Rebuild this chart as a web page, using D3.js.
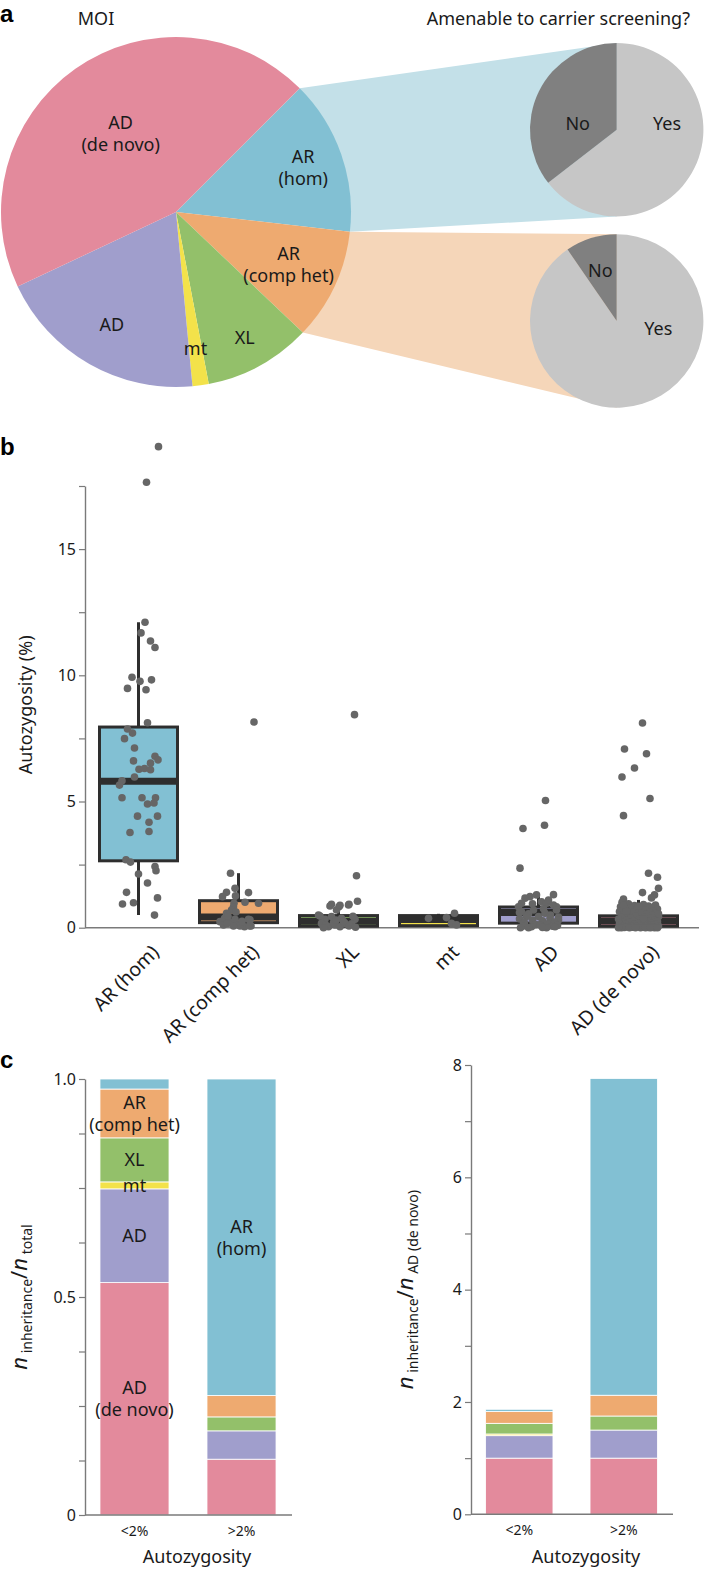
<!DOCTYPE html>
<html><head><meta charset="utf-8">
<script src="https://cdn.jsdelivr.net/npm/d3@7"></script>
<style>body{margin:0;background:#fff} text{font-family:"Noto Sans",sans-serif;fill:#1a1a1a}</style>
</head><body><svg id="chart" width="704" height="1571"></svg>
<script>
// ---------------- DATA ----------------
const moiCategories = ["AR (hom)", "AR (comp het)", "XL", "mt", "AD", "AD (de novo)"];
const moiLabels = [["AR", "(hom)"], ["AR", "(comp het)"], ["XL"], ["mt"], ["AD"], ["AD", "(de novo)"]];
const moiShare = [14.3, 10.3, 9.9, 1.5, 19.5, 44.5];           // % of cases
const moiColors = ["#82c0d3", "#eeaa70", "#93c06a", "#f3e24a", "#a09ecc", "#e38a9c"];

const screenAnswers = ["Yes", "No"];
const screenHom = [64.5, 35.5];       // AR (hom) amenable to carrier screening
const screenCompHet = [90.4, 9.6];    // AR (comp het)
const screenColors = ["#c6c6c6", "#808080"];

// panel b: box statistics [q1, median, q3, whiskerLow, whiskerHigh]
const boxStats = [
  [2.65, 5.8, 7.95, 0.5, 12.1],
  [0.2, 0.42, 1.07, 0.0, 2.16],
  [0.06, 0.26, 0.48, 0.0, 0.9],
  [0.08, 0.32, 0.48, 0.1, 0.55],
  [0.18, 0.6, 0.82, 0.0, 1.25],
  [0.06, 0.27, 0.47, 0.0, 1.1]
];
// points: [autozygosity %, horizontal jitter (fraction of band step)]
const ptsHom = [[19.06,0.20],[17.65,0.08],[12.1,0.065],[11.68,0.025],[11.36,0.12],[11.1,0.165],[9.92,-0.065],[9.76,0.015],[9.82,0.13],[9.48,-0.11],[9.43,0.075],[8.12,0.09],[7.87,-0.11],[7.71,-0.06],[7.49,-0.14],[7.12,-0.04],[6.79,0.165],[6.65,0.195],[6.61,-0.05],[6.52,0.12],[6.28,0.005],[6.31,0.06],[6.26,0.12],[5.97,-0.04],[5.82,-0.165],[5.65,-0.19],[5.15,-0.165],[5.15,0.035],[5.15,0.17],[4.9,0.09],[4.94,0.155],[4.42,-0.01],[4.42,0.19],[4.18,0.105],[3.81,0.105],[3.77,-0.085],[2.69,-0.125],[2.6,-0.08],[2.42,0.165],[2.26,0.175],[2.13,0.0],[1.77,0.09],[1.4,-0.12],[1.18,0.19],[0.94,-0.16],[0.99,-0.05],[0.5,0.16]];
const ptsCompHet = [[8.15,0.155],[2.16,-0.08],[1.56,-0.035],[1.4,-0.12],[1.39,0.10],[1.23,-0.16],[1.26,-0.03],[1.01,0.065],[0.97,0.20],[0.97,-0.045],[0.83,-0.05],[0.7,-0.07],[0.57,-0.12],[0.37,-0.14],[0.33,-0.035],[0.33,0.10],[0.24,-0.185],[0.2,-0.085],[0.11,0.0],[0.04,0.06],[0.07,0.125],[0.11,-0.15],[0.17,-0.11],[0.07,0.015],[0.07,0.11],[0.31,0.115],[0.07,-0.05],[0.45,-0.105],[0.25,0.035],[0.62,-0.025]];
const ptsXL = [[8.44,0.16],[2.06,0.18],[1.05,0.19],[0.93,-0.07],[0.93,0.105],[0.83,0.005],[0.7,-0.02],[0.5,-0.2],[0.33,-0.135],[0.44,-0.07],[0.37,0.03],[0.33,0.165],[0.17,-0.17],[0.04,-0.10],[0.11,-0.035],[0.17,0.065],[0.15,0.13],[0.04,0.015],[0.07,0.105],[0.86,-0.085],[0.89,0.015],[0.9,0.10],[0.46,-0.185],[0.2,-0.05],[0.24,0.05],[0.1,-0.125],[0.45,0.145],[0.3,-0.025],[0.02,0.17],[0.0,-0.15]];
const ptsMt = [[0.37,-0.10],[0.4,0.08],[0.57,0.16],[0.17,0.13],[0.11,0.18]];
const ptsAD = [[5.04,0.07],[4.06,0.06],[3.93,-0.155],[2.36,-0.185],[1.31,0.15],[1.23,-0.085],[1.17,-0.135],[1.3,-0.02],[1.03,0.03],[0.97,-0.17],[0.97,0.08],[0.9,0.15],[0.83,-0.2],[0.83,0.18],[0.7,0.18],[0.7,-0.05],[0.63,-0.17],[0.57,0.065],[0.55,-0.1],[0.5,0.12],[0.44,-0.12],[0.44,0.0],[0.42,0.2],[0.37,0.115],[0.35,-0.19],[0.31,0.2],[0.3,-0.06],[0.27,0.04],[0.22,0.16],[0.2,-0.14],[0.17,-0.15],[0.15,0.09],[0.12,-0.03],[0.11,0.015],[0.09,0.19],[0.07,-0.15],[0.06,0.14],[0.04,-0.07],[0.04,0.165],[0.02,0.08],[0.0,-0.1],[0.0,0.08],[0.0,-0.18],[0.01,0.04],[0.6,-0.19],[0.75,0.05],[0.95,-0.06],[1.1,0.1]];
const ptsDeNovo = [[8.11,0.04],[7.08,-0.14],[6.89,0.08],[6.33,-0.04],[5.97,-0.165],[5.12,0.115],[4.44,-0.15],[2.16,0.10],[2.0,0.19],[1.56,0.20],[1.39,0.04],[1.3,0.16],[1.18,0.13],[1.14,-0.15],[1.01,-0.165],
  [0.95,-0.1],[0.92,0.05],[0.9,0.17],[0.88,-0.04],[0.86,0.1],[0.83,-0.18],[0.8,0.13],[0.78,0.02],[0.76,-0.08],[0.74,0.19],[0.72,-0.13],[0.7,0.07],[0.68,-0.02],[0.66,0.15],[0.64,-0.19],[0.62,0.11],[0.6,-0.06],[0.58,0.03],[0.56,0.18],[0.54,-0.15],[0.52,0.08],[0.5,-0.11],[0.48,0.14],[0.46,-0.03],[0.44,0.2],[0.42,-0.17],[0.4,0.06],[0.38,-0.08],[0.36,0.12],[0.34,-0.2],[0.32,0.01],[0.3,0.16],[0.28,-0.12],[0.27,0.09],[0.25,-0.05],[0.24,0.19],[0.22,-0.16],[0.21,0.04],[0.2,-0.09],[0.18,0.13],[0.17,-0.19],[0.16,0.0],[0.15,0.17],[0.14,-0.13],[0.13,0.07],[0.12,-0.04],[0.11,0.11],[0.1,-0.18],[0.09,0.15],[0.08,-0.07],[0.07,0.03],[0.07,0.2],[0.06,-0.15],[0.05,0.09],[0.05,-0.02],[0.04,0.14],[0.04,-0.11],[0.03,0.05],[0.03,-0.19],[0.02,0.18],[0.02,-0.06],[0.01,0.1],[0.01,-0.14],[0.0,0.02],[0.0,-0.09],[0.0,0.16],[0.0,-0.17],[0.0,0.07],[0.0,-0.03],[0.0,0.12],[0.0,0.19],[0.0,-0.2],[0.55,0.2],[0.65,-0.12],[0.85,0.0],[0.9,-0.15],[0.35,0.05]];
const boxPoints = [ptsHom, ptsCompHet, ptsXL, ptsMt, ptsAD, ptsDeNovo];
const boxYTicks = [0, 2.5, 5, 7.5, 10, 12.5, 15, 17.5];

// panel c: stacked bars (bottom to top order)
const stackCategories = ["AD (de novo)", "AD", "mt", "XL", "AR (comp het)", "AR (hom)"];
const stackColors = ["#e38a9c", "#a09ecc", "#f3e24a", "#93c06a", "#eeaa70", "#82c0d3"];
const autozygosityGroups = ["<2%", ">2%"];
const shareLow  = [0.533, 0.215, 0.016, 0.101, 0.112, 0.023];  // n_inheritance / n_total, <2%
const shareHigh = [0.128, 0.065, 0.0, 0.032, 0.049, 0.726];    // >2%
const ratioLow  = [1.0, 0.40, 0.03, 0.19, 0.21, 0.04];          // n_inheritance / n_AD(de novo), <2%
const ratioHigh = [1.0, 0.50, 0.0, 0.25, 0.37, 5.64];           // >2%
const shareTicks = [0, 0.125, 0.25, 0.375, 0.5, 0.625, 0.75, 0.875, 1.0];
const ratioTicks = [0, 1, 2, 3, 4, 5, 6, 7, 8];

// ---------------- DRAW ----------------
const svg = d3.select("#chart");
const dark = "#2e2e2e", axisCol = "#7a7a7a";
const FS = "18px";

function panelLetter(t, x, y) {
  svg.append("text").attr("x", x).attr("y", y).text(t)
    .style("font-weight", "bold").style("font-size", "24px").style("fill", "#000")
    .style("font-family", "'Liberation Sans',Arial,sans-serif");
}
panelLetter("a", 0, 22); panelLetter("b", 0, 455); panelLetter("c", 0, 1068);

// ---- Panel a ----
const main = {cx: 176, cy: 212, r: 175};
const sub1 = {cx: 616.7, cy: 129.7, r: 86.7};
const sub2 = {cx: 616.7, cy: 321, r: 86.7};
const a0 = Math.PI / 4;
const pieMain = d3.pie().sort(null).startAngle(a0).endAngle(a0 + 2 * Math.PI)(moiShare);
const pt = (c, ang, r) => [c.cx + r * Math.sin(ang), c.cy - r * Math.cos(ang)];

// connector wedges
const hom = pieMain[0], ch = pieMain[1];
svg.append("polygon").attr("fill", "#c3e0e8").attr("points", [
  pt(main, hom.startAngle, main.r), [sub1.cx, sub1.cy - sub1.r], [sub1.cx, sub1.cy + sub1.r], pt(main, hom.endAngle, main.r)
].map(p => p.join(",")).join(" "));
svg.append("polygon").attr("fill", "#f5d6b9").attr("points", [
  pt(main, ch.startAngle, main.r), [sub2.cx, sub2.cy - sub2.r], [sub2.cx, sub2.cy + sub2.r], pt(main, ch.endAngle, main.r)
].map(p => p.join(",")).join(" "));

const arcMain = d3.arc().innerRadius(0).outerRadius(main.r);
const gMain = svg.append("g").attr("transform", `translate(${main.cx},${main.cy})`);
gMain.selectAll("path").data(pieMain).join("path").attr("d", arcMain).attr("fill", (d, i) => moiColors[i]);
const labelR = [0.77, 0.71, 0.82, 0.79, 0.74, 0.55];
pieMain.forEach((d, i) => {
  const m = (d.startAngle + d.endAngle) / 2, rr = labelR[i] * main.r;
  const x = rr * Math.sin(m), y = -rr * Math.cos(m);
  const lines = moiLabels[i];
  lines.forEach((t, k) => {
    gMain.append("text").attr("x", x).attr("y", y + (k - (lines.length - 1) / 2) * 22)
      .attr("text-anchor", "middle").attr("dy", "0.36em").style("font-size", FS).text(t);
  });
});

function subPie(c, vals, labelOffsets) {
  const p = d3.pie().sort(null)(vals);
  const g = svg.append("g").attr("transform", `translate(${c.cx},${c.cy})`);
  g.selectAll("path").data(p).join("path").attr("d", d3.arc().innerRadius(0).outerRadius(c.r)).attr("fill", (d, i) => screenColors[i]);
  screenAnswers.forEach((t, i) => {
    g.append("text").attr("x", labelOffsets[i][0] * c.r).attr("y", labelOffsets[i][1] * c.r)
      .attr("dy", "0.36em").attr("text-anchor", "middle").style("font-size", FS).text(t);
  });
}
subPie(sub1, screenHom, [[0.58, -0.07], [-0.45, -0.07]]);
subPie(sub2, screenCompHet, [[0.48, 0.085], [-0.19, -0.58]]);

svg.append("text").attr("x", 96).attr("y", 25).attr("text-anchor", "middle").style("font-size", FS).text("MOI");
svg.append("text").attr("x", 690).attr("y", 25).attr("text-anchor", "end").style("font-size", FS).text("Amenable to carrier screening?");

// ---- Panel b ----
const yB = d3.scaleLinear().domain([0, 17.5]).range([927.7, 486]);
const xB = d3.scaleBand().domain(moiCategories).range([88.5, 688.5]).paddingInner(0.22).paddingOuter(0.11);
const gBy = svg.append("g").attr("transform", "translate(85,0)")
  .call(d3.axisLeft(yB).tickValues(boxYTicks).tickSize(6).tickSizeOuter(0).tickFormat(d => d % 5 === 0 ? d : ""));
function styleAxis(g) {
  g.select(".domain").attr("stroke", axisCol).attr("stroke-width", 1.4);
  g.selectAll(".tick line").attr("stroke", axisCol).attr("stroke-width", 1.2);
  g.selectAll(".tick text").style("font-size", "16px").style("font-family", "'Noto Sans',sans-serif").attr("fill", "#1a1a1a");
}
styleAxis(gBy);
svg.append("line").attr("x1", 85).attr("x2", 699).attr("y1", yB(0)).attr("y2", yB(0)).attr("stroke", axisCol).attr("stroke-width", 1.4);
svg.append("text").attr("transform", `translate(32,${(yB(0) + yB(17.5)) / 2 - 2}) rotate(-90)`)
  .attr("text-anchor", "middle").style("font-size", FS).text("Autozygosity (%)");

const step = xB.step();
moiCategories.forEach((c, i) => {
  const [q1, med, q3, wl, wh] = boxStats[i];
  const cx = xB(c) + xB.bandwidth() / 2;
  const g = svg.append("g");
  g.append("line").attr("x1", cx).attr("x2", cx).attr("y1", yB(wl)).attr("y2", yB(wh)).attr("stroke", dark).attr("stroke-width", 3);
  g.append("rect").attr("x", xB(c)).attr("width", xB.bandwidth()).attr("y", yB(q3)).attr("height", yB(q1) - yB(q3))
    .attr("fill", moiColors[i]).attr("stroke", dark).attr("stroke-width", 3);
  g.append("line").attr("x1", xB(c) + 1).attr("x2", xB(c) + xB.bandwidth() - 1).attr("y1", yB(med)).attr("y2", yB(med))
    .attr("stroke", dark).attr("stroke-width", 7);
  g.selectAll("circle").data(boxPoints[i]).join("circle")
    .attr("cx", d => cx + d[1] * step).attr("cy", d => yB(d[0])).attr("r", 3.8).attr("fill", "#666");
  svg.append("text").attr("transform", `translate(${cx + 12},${yB(0) + 16}) rotate(-45)`)
    .attr("text-anchor", "end").attr("dy", "0.7em").style("font-size", "19.5px").text(c);
});

// ---- Panel c ----
function stackPanel(opts) {
  const {x0, x1, yRange, domainMax, ticks, fmt, low, high, labels, ylab, xlabX} = opts;
  const y = d3.scaleLinear().domain([0, domainMax]).range(yRange);
  const x = d3.scaleBand().domain(autozygosityGroups).range([x0, x1]).paddingInner(0.355).paddingOuter(0.14);
  const rows = autozygosityGroups.map((gname, gi) => {
    const o = {group: gname};
    stackCategories.forEach((k, ki) => o[k] = (gi === 0 ? low : high)[ki]);
    return o;
  });
  const series = d3.stack().keys(stackCategories)(rows);
  const g = svg.append("g");
  g.selectAll("g.s").data(series).join("g").attr("fill", (d, i) => stackColors[i])
    .selectAll("rect").data(d => d).join("rect")
    .attr("x", d => x(d.data.group)).attr("width", x.bandwidth())
    .attr("y", d => y(d[1])).attr("height", d => Math.max(0, y(d[0]) - y(d[1])))
    .attr("stroke", "#fff").attr("stroke-width", 0.8);
  const ax = svg.append("g").attr("transform", `translate(${x0},0)`)
    .call(d3.axisLeft(y).tickValues(ticks).tickSize(6).tickSizeOuter(0).tickFormat(fmt));
  styleAxis(ax);
  svg.append("line").attr("x1", x0).attr("x2", x1 + 1).attr("y1", y(0)).attr("y2", y(0)).attr("stroke", axisCol).attr("stroke-width", 1.4);
  autozygosityGroups.forEach(gname => {
    svg.append("text").attr("x", x(gname) + x.bandwidth() / 2).attr("y", y(0) + 16).attr("dy", "0.36em")
      .attr("text-anchor", "middle").style("font-size", "14px").text(gname);
  });
  svg.append("text").attr("x", xlabX).attr("y", y(0) + 42).attr("dy", "0.36em")
    .attr("text-anchor", "middle").style("font-size", FS).text("Autozygosity");
  if (labels) {
    labels.forEach(([gi, ki, lines]) => {
      const s = series[ki][gi];
      const cy = (y(s[0]) + y(s[1])) / 2;
      const cx = x(autozygosityGroups[gi]) + x.bandwidth() / 2;
      lines.forEach((t, k) => svg.append("text").attr("x", cx).attr("y", cy + (k - (lines.length - 1) / 2) * 22)
        .attr("dy", "0.36em").attr("text-anchor", "middle").style("font-size", FS).text(t));
    });
  }
  const yc = (yRange[0] + yRange[1]) / 2;
  const t = svg.append("text").attr("transform", `translate(${x0 - 58},${yc}) rotate(-90)`).attr("text-anchor", "middle");
  t.append("tspan").style("font-style", "italic").style("font-size", "22px").text("n");
  t.append("tspan").style("font-size", "14px").attr("dy", "5").text(" inheritance");
  t.append("tspan").style("font-size", "22px").attr("dy", "-5").text("/");
  t.append("tspan").style("font-style", "italic").style("font-size", "22px").text("n");
  t.append("tspan").style("font-size", "14px").attr("dy", "5").text(" " + ylab);
}
stackPanel({x0: 85, x1: 291, yRange: [1515, 1079], domainMax: 1, ticks: shareTicks,
  fmt: d => d === 0 ? "0" : d === 0.5 ? "0.5" : d === 1 ? "1.0" : "",
  low: shareLow, high: shareHigh, ylab: "total", xlabX: 197,
  labels: [[0, 0, ["AD", "(de novo)"]], [0, 1, ["AD"]], [0, 2, ["mt"]], [0, 3, ["XL"]], [0, 4, ["AR", "(comp het)"]], [1, 5, ["AR", "(hom)"]]]});
stackPanel({x0: 471, x1: 672, yRange: [1514.3, 1065], domainMax: 8, ticks: ratioTicks,
  fmt: d => d % 2 === 0 ? d : "", low: ratioLow, high: ratioHigh, ylab: "AD (de novo)", xlabX: 586, labels: null});
</script></body></html>
